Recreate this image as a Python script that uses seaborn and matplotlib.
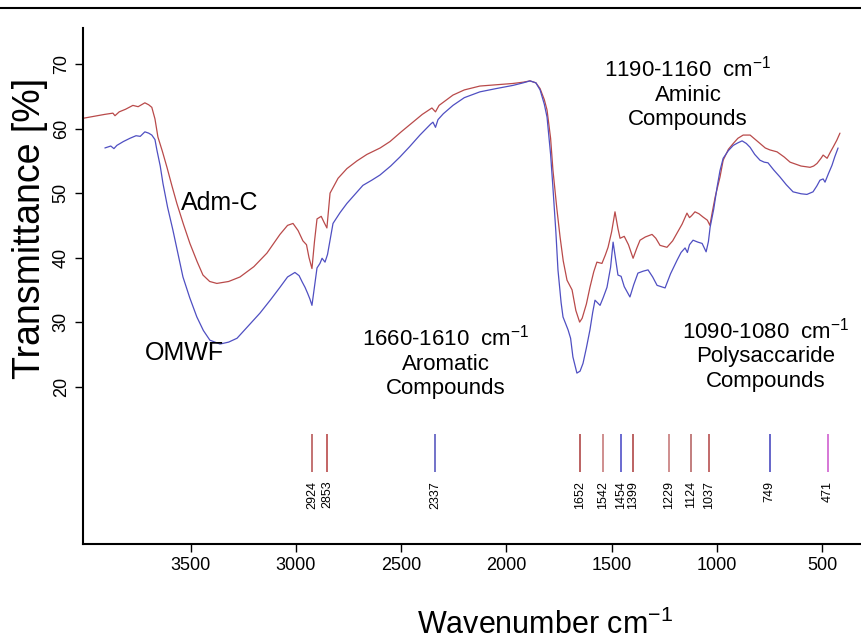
import numpy as np
import pandas as pd
import matplotlib
matplotlib.use("Agg")
import matplotlib.pyplot as plt
from matplotlib.lines import Line2D
import seaborn as sns

# ---------------- data ----------------
adm_wn = [4012, 3960, 3910, 3870, 3860, 3840, 3810, 3775, 3750, 3718, 3700, 3685, 3670, 3656,
          3635, 3613, 3590, 3566, 3535, 3504, 3470, 3442, 3410, 3376, 3320, 3266, 3200, 3138,
          3076, 3040, 3014, 2990, 2967, 2950, 2938, 2924, 2912, 2900, 2880, 2867, 2853, 2838,
          2800, 2758, 2710, 2663, 2600, 2553, 2500, 2444, 2400, 2354, 2337, 2320, 2254, 2200,
          2126, 2050, 1969, 1920, 1888, 1860, 1840, 1820, 1807, 1790, 1779, 1760, 1745, 1730,
          1712, 1688, 1670, 1652, 1640, 1620, 1603, 1585, 1570, 1546, 1530, 1517, 1500, 1484,
          1470, 1460, 1440, 1420, 1398, 1380, 1365, 1340, 1308, 1290, 1270, 1237, 1210, 1189,
          1165, 1142, 1130, 1120, 1104, 1085, 1066, 1045, 1033, 1022, 1008, 985, 970, 945, 922,
          900, 875, 842, 820, 795, 770, 748, 714, 680, 652, 600, 557, 540, 524, 505, 495, 476,
          460, 448, 430, 415]
adm_t = [61.6, 61.9, 62.2, 62.4, 62.0, 62.6, 63.0, 63.6, 63.4, 64.0, 63.7, 63.3, 61.5, 58.7,
         56.5, 54.0, 51.2, 48.4, 45.2, 42.2, 39.4, 37.3, 36.3, 36.0, 36.3, 37.0, 38.6, 40.7,
         43.6, 45.0, 45.3, 44.2, 42.6, 42.0, 40.0, 38.3, 42.5, 46.0, 46.4, 45.5, 44.6, 50.0,
         52.3, 53.8, 55.0, 56.0, 57.0, 58.0, 59.5, 61.0, 62.2, 63.2, 62.6, 63.6, 65.2, 66.0,
         66.6, 66.8, 67.0, 67.2, 67.4, 67.1, 66.2, 64.5, 62.9, 58.5, 53.6, 47.5, 43.2, 39.5,
         36.5, 35.0, 31.8, 30.0, 30.6, 32.8, 35.4, 37.8, 39.3, 39.1, 40.4, 41.6, 44.0, 47.1,
         44.5, 43.0, 43.3, 42.0, 39.9, 41.5, 42.7, 43.2, 43.6, 43.0, 41.9, 41.6, 42.6, 43.8,
         45.2, 46.9, 46.2, 46.5, 47.1, 46.8, 46.3, 45.8, 45.0, 47.0, 49.4, 52.5, 55.1, 56.8, 57.7,
         58.5, 59.0, 59.0, 58.4, 57.7, 57.0, 56.7, 56.4, 55.6, 54.8, 54.2, 54.0, 54.2, 54.6,
         55.4, 55.9, 55.4, 56.4, 57.1, 58.2, 59.3]

omwf_wn = [3908, 3880, 3865, 3851, 3820, 3789, 3760, 3740, 3718, 3700, 3685, 3670, 3661, 3645,
           3632, 3610, 3585, 3560, 3537, 3505, 3471, 3440, 3409, 3361, 3320, 3280, 3230, 3171,
           3120, 3076, 3040, 3005, 2985, 2970, 2957, 2945, 2934, 2924, 2912, 2900, 2886, 2876,
           2862, 2850, 2824, 2790, 2758, 2720, 2682, 2640, 2601, 2550, 2506, 2460, 2411, 2360,
           2349, 2337, 2325, 2300, 2254, 2200, 2126, 2050, 1969, 1920, 1888, 1860, 1840, 1820,
           1807, 1790, 1779, 1765, 1755, 1740, 1731, 1707, 1695, 1684, 1665, 1650, 1636, 1620,
           1603, 1590, 1579, 1555, 1540, 1522, 1505, 1493, 1480, 1470, 1455, 1440, 1413, 1395,
           1375, 1350, 1327, 1305, 1284, 1246, 1220, 1189, 1170, 1151, 1140, 1130, 1113, 1090,
           1070, 1051, 1040, 1032, 1015, 999, 985, 970, 945, 922, 900, 880, 860, 842, 820, 795,
           775, 757, 730, 700, 670, 638, 600, 572, 543, 525, 510, 495, 486, 470, 453, 440, 424]
omwf_t = [57.0, 57.3, 56.9, 57.4, 58.0, 58.5, 58.9, 58.8, 59.5, 59.3, 59.0, 58.3, 56.7, 54.2,
          51.5, 47.8, 44.3, 40.5, 37.0, 33.8, 30.8, 28.7, 27.2, 26.6, 26.9, 27.5, 29.3, 31.4,
          33.5, 35.4, 37.0, 37.7, 37.2, 36.2, 35.4, 34.5, 33.6, 32.6, 35.5, 38.4, 39.1, 39.9,
          39.3, 40.5, 45.3, 47.0, 48.4, 49.8, 51.2, 52.0, 52.8, 54.2, 55.6, 57.2, 59.0, 60.7,
          61.0, 60.2, 61.4, 62.3, 63.6, 64.8, 65.7, 66.2, 66.7, 67.1, 67.4, 67.1, 66.0, 63.8,
          61.8, 56.0, 50.9, 44.0, 38.1, 33.0, 30.8, 28.8, 27.5, 24.6, 22.1, 22.4, 23.6, 26.0,
          28.8, 31.5, 33.4, 32.6, 33.8, 35.4, 38.5, 42.4, 39.5, 37.3, 37.1, 35.5, 33.9, 35.8,
          37.6, 37.9, 38.1, 37.0, 35.7, 35.3, 37.5, 39.6, 40.8, 41.5, 40.8, 42.0, 42.7, 42.4,
          42.2, 40.9, 42.5, 44.7, 47.5, 50.9, 53.5, 55.4, 56.6, 57.4, 57.8, 58.1, 57.7, 57.1,
          56.0, 55.1, 54.8, 54.7, 53.6, 52.5, 51.3, 50.2, 49.9, 49.8, 50.2, 51.1, 52.0, 52.2,
          51.7, 53.0, 54.3, 55.6, 57.0]

peak_wn = [2924, 2853, 2337, 1652, 1542, 1454, 1399, 1229, 1124, 1037, 749, 471]
peak_labels = ["2924", "2853", "2337", "1652", "1542", "1454", "1399", "1229", "1124",
               "1037", "749", "471"]
peak_colors = ["#b95a5a", "#b94a4a", "#5a5ac0", "#b04848", "#c77c7c", "#5050c8",
               "#b04848", "#c77c7c", "#b86868", "#b85050", "#4b4bc0", "#d060d0"]

y_ticks = [20, 30, 40, 50, 60, 70]
x_ticks = [3500, 3000, 2500, 2000, 1500, 1000, 500]

RED = "#b94a4a"
BLUE = "#4f4fc2"

# ---------------- styling ----------------
sns.set_style("ticks")
plt.rcParams["font.family"] = ["Liberation Sans", "DejaVu Sans"]
plt.rcParams["text.color"] = "black"
plt.rcParams["mathtext.fontset"] = "custom"
plt.rcParams["mathtext.rm"] = "Liberation Sans"
plt.rcParams["mathtext.it"] = "Liberation Sans:italic"
plt.rcParams["mathtext.bf"] = "Liberation Sans:bold"
plt.rcParams["mathtext.default"] = "regular"

fig = plt.figure(figsize=(8.61, 6.42), dpi=100)
ax = fig.add_axes([83 / 861, 1 - 544 / 642, 1 - 83 / 861, (544 - 28) / 642])

df = pd.concat([
    pd.DataFrame({"wn": adm_wn, "T": adm_t, "sample": "Adm-C"}),
    pd.DataFrame({"wn": omwf_wn, "T": omwf_t, "sample": "OMWF"}),
])
sns.lineplot(data=df, x="wn", y="T", hue="sample", palette={"Adm-C": RED, "OMWF": BLUE},
             sort=False, estimator=None, legend=False, linewidth=0.9, ax=ax)

# peak markers
ax.vlines(peak_wn, 6.8, 12.6, colors=peak_colors, linewidth=1.2)
for w, lab in zip(peak_wn, peak_labels):
    ax.text(w, 5.4, lab, rotation=90, ha="center", va="top", fontsize=9, color="black")

# annotations
ax.text(3361, 48.4, "Adm-C", fontsize=18, ha="center", va="center", color="black")
ax.text(3528, 25.2, "OMWF", fontsize=18, ha="center", va="center", color="black")
ax.text(2287, 23.8, "1660-1610  cm$^{-1}$\nAromatic\nCompounds", fontsize=16,
        ha="center", va="center", linespacing=1.2, color="black")
ax.text(1137, 65.5, "1190-1160  cm$^{-1}$\nAminic\nCompounds", fontsize=16,
        ha="center", va="center", linespacing=1.2, color="black")
ax.text(766, 25.0, "1090-1080  cm$^{-1}$\nPolysaccaride\nCompounds", fontsize=16,
        ha="center", va="center", linespacing=1.2, color="black")

ax.set_xlim(4012, 315)
ax.set_ylim(-4.4, 75.6)
ax.set_xticks(x_ticks)
ax.set_yticks(y_ticks)
ax.set_xlabel("")
ax.set_ylabel("")
ax.tick_params(axis="both", direction="out", length=6, width=1, labelsize=13,
               colors="black", labelcolor="black")
ax.tick_params(axis="y", labelrotation=90)
for lab in ax.get_yticklabels():
    lab.set_va("center")
sns.despine(ax=ax)
for s in ["left", "bottom"]:
    ax.spines[s].set_linewidth(1.5)
    ax.spines[s].set_color("black")

fig.text(545 / 861, 1 - 625 / 642, "Wavenumber cm$^{-1}$", fontsize=22, ha="center",
         va="center", color="black")
fig.text(30 / 861, 1 - 228 / 642, "Transmittance [%]", fontsize=27, rotation=90,
         ha="center", va="center", color="black")

fig.add_artist(Line2D([0, 1], [1 - 8 / 642, 1 - 8 / 642], transform=fig.transFigure,
                      color="black", linewidth=1.5))

fig.savefig("out.png", dpi=100)
